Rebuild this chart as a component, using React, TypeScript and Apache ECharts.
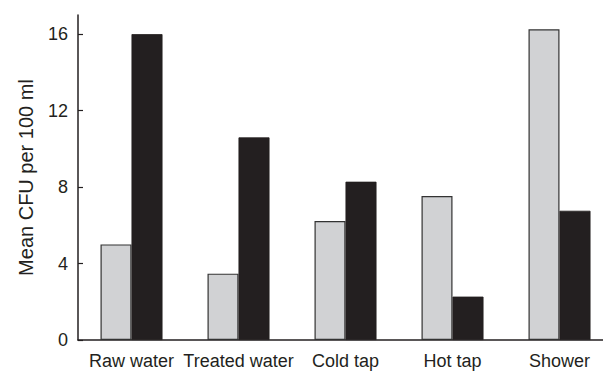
import React, { useEffect, useRef } from "react";
import * as echarts from "echarts";

const categories = ["Raw water", "Treated water", "Cold tap", "Hot tap", "Shower"];
const greyValues = [5.0, 3.47, 6.22, 7.53, 16.25];
const blackValues = [16.0, 10.6, 8.28, 2.27, 6.76];
const yTicks = [0, 4, 8, 12, 16];

const INK = "#231f20";

export default function App() {
  const ref = useRef<HTMLDivElement>(null);
  useEffect(() => {
    if (!ref.current) return;
    const chart = echarts.init(ref.current, null, { renderer: "svg" });
    chart.setOption({
      animation: false,
      backgroundColor: "#ffffff",
      textStyle: { fontFamily: "Liberation Sans, Arial, sans-serif", color: INK },
      grid: {
        left: 78,
        width: 535,
        top: 15,
        bottom: 31,
        containLabel: false,
        outerBoundsMode: "none",
      },
      xAxis: {
        type: "category",
        data: categories,
        boundaryGap: true,
        axisLine: { lineStyle: { color: INK, width: 1.5 } },
        axisTick: { inside: true, length: 5, alignWithLabel: false, lineStyle: { color: INK, width: 1.2 } },
        axisLabel: { color: INK, fontSize: 18, margin: 12, interval: 0 },
        splitLine: { show: false },
      },
      yAxis: {
        type: "value",
        min: 0,
        max: 17,
        interval: 4,
        name: "Mean CFU per 100 ml",
        nameLocation: "middle",
        nameRotate: 90,
        nameGap: 42,
        nameTextStyle: { color: INK, fontSize: 20 },
        axisLine: { show: true, lineStyle: { color: INK, width: 1.5 } },
        axisTick: { show: true, inside: true, length: 5, customValues: yTicks, lineStyle: { color: INK, width: 1.2 } },
        axisLabel: { color: INK, fontSize: 18, margin: 10, customValues: yTicks },
        splitLine: { show: false },
      },
      series: [
        {
          name: "Grey",
          type: "bar",
          data: greyValues,
          barWidth: 31,
          barGap: "0%",
          itemStyle: { color: "#d1d2d4", borderColor: "#333333", borderWidth: 1.2 },
        },
        {
          name: "Black",
          type: "bar",
          data: blackValues,
          barWidth: 31,
          itemStyle: { color: INK, borderColor: INK, borderWidth: 0.8 },
        },
      ],
    });
    return () => chart.dispose();
  }, []);
  return (
    <div
      ref={ref}
      style={{ position: "fixed", left: 0, top: 0, width: 603, height: 371, overflow: "hidden" }}
    />
  );
}
